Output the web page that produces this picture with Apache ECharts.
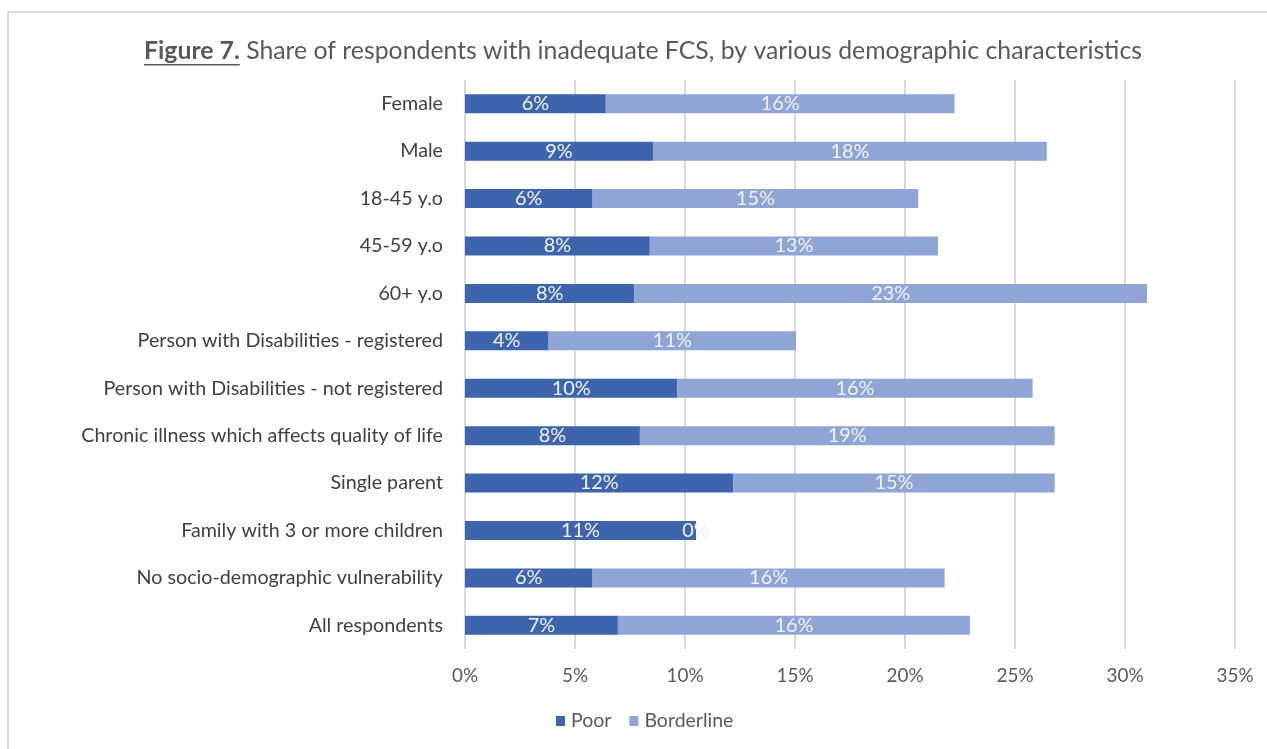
<!DOCTYPE html>
<html>
<head>
<meta charset="utf-8">
<script src="https://cdn.jsdelivr.net/npm/echarts@6/dist/echarts.min.js"></script>
<style>
  html, body { margin: 0; padding: 0; background: #ffffff; }
  #chart { width: 1267px; height: 749px; }
</style>
</head>
<body>
<div id="chart"></div>
<script>
// Demographic groups, top to bottom as drawn
const categories = [
  'Female',
  'Male',
  '18-45 y.o',
  '45-59 y.o',
  '60+ y.o',
  'Person with Disabilities - registered',
  'Person with Disabilities - not registered',
  'Chronic illness which affects quality of life',
  'Single parent',
  'Family with 3 or more children',
  'No socio-demographic vulnerability',
  'All respondents'
];

// Share of respondents (%) with poor food consumption score
const poor = [6.4, 8.55, 5.8, 8.4, 7.7, 3.8, 9.65, 7.95, 12.2, 10.5, 5.8, 6.95];
// Share of respondents (%) with borderline food consumption score
const borderline = [15.85, 17.9, 14.8, 13.1, 23.3, 11.25, 16.15, 18.85, 14.6, 0, 16.0, 16.0];

const xTicks = { min: 0, max: 35, interval: 5 };

const TITLE_BOLD = 'Figure 7.';
const TITLE_REST = ' Share of respondents with inadequate FCS, by various demographic characteristics';

const FONT = "Lato, 'Open Sans', sans-serif";

// Pick a font size so that a sample string takes the wanted width
const ctx = document.createElement('canvas').getContext('2d');
function textWidth(text, size, weight) {
  ctx.font = (weight || 'normal') + ' ' + size + 'px ' + FONT;
  return ctx.measureText(text).width;
}
function fitSize(text, width, weight) {
  return Math.round(100 * width / textWidth(text, 100, weight) * 10) / 10;
}

const catSize = fitSize('Chronic illness which affects quality of life', 362);
const tickSize = fitSize('35%', 37);
const valSize = fitSize('16%', 39);
const legendSize = fitSize('Borderline', 89);
const titleSize = Math.round(100 * 1000 / (textWidth(TITLE_BOLD, 100, 'bold') + textWidth(TITLE_REST, 100)) * 10) / 10;
const boldWidth = textWidth(TITLE_BOLD, titleSize, 'bold');

const chart = echarts.init(document.getElementById('chart'));

const labelStyle = {
  show: true,
  position: 'inside',
  color: '#f2f2f2',
  fontSize: valSize,
  fontFamily: FONT,
  formatter: p => Math.round(p.value) + '%'
};

const titleLeft = 144;
const titleTop = 39;

chart.setOption({
  backgroundColor: '#ffffff',
  animation: false,
  graphic: [
    {
      type: 'rect',
      shape: { x: 8, y: 12, width: 1300, height: 800 },
      style: { fill: 'none', stroke: '#d9d9d9', lineWidth: 2 },
      silent: true
    },
    {
      type: 'text',
      left: titleLeft,
      top: titleTop,
      style: {
        text: '{b|' + TITLE_BOLD + '}' + TITLE_REST,
        rich: {
          b: { fontWeight: 'bold', fontSize: titleSize, fontFamily: FONT, fill: '#595959' }
        },
        fontSize: titleSize,
        fontFamily: FONT,
        fill: '#595959'
      }
    },
    {
      type: 'line',
      shape: { x1: titleLeft, y1: titleTop + titleSize + 1, x2: titleLeft + boldWidth, y2: titleTop + titleSize + 1 },
      style: { stroke: '#595959', lineWidth: 1.5 }
    }
  ],
  legend: {
    top: 706,
    left: 551,
    itemWidth: 9,
    itemHeight: 10,
    itemGap: 18,
    icon: 'rect',
    textStyle: { color: '#595959', fontSize: legendSize, fontFamily: FONT, padding: [0, 0, 0, 1] },
    data: ['Poor', 'Borderline']
  },
  grid: { left: 465, right: 32, top: 80, bottom: 100 },
  xAxis: {
    type: 'value',
    min: xTicks.min,
    max: xTicks.max,
    interval: xTicks.interval,
    axisLine: { show: false },
    axisTick: { show: false },
    axisLabel: { color: '#595959', fontSize: tickSize, fontFamily: FONT, margin: 17, formatter: v => v + '%' },
    splitLine: { lineStyle: { color: '#d9d9d9', width: 2 } }
  },
  yAxis: {
    type: 'category',
    inverse: true,
    data: categories,
    axisLine: { show: false },
    axisTick: { show: false },
    axisLabel: { color: '#404040', fontSize: catSize, fontFamily: FONT, margin: 22 }
  },
  series: [
    {
      name: 'Poor',
      type: 'bar',
      stack: 'fcs',
      data: poor,
      barWidth: 19,
      itemStyle: { color: '#3c65ae' },
      label: labelStyle
    },
    {
      name: 'Borderline',
      type: 'bar',
      stack: 'fcs',
      data: borderline,
      barWidth: 19,
      itemStyle: { color: '#8fa5d6' },
      label: labelStyle
    }
  ]
});
</script>
</body>
</html>
